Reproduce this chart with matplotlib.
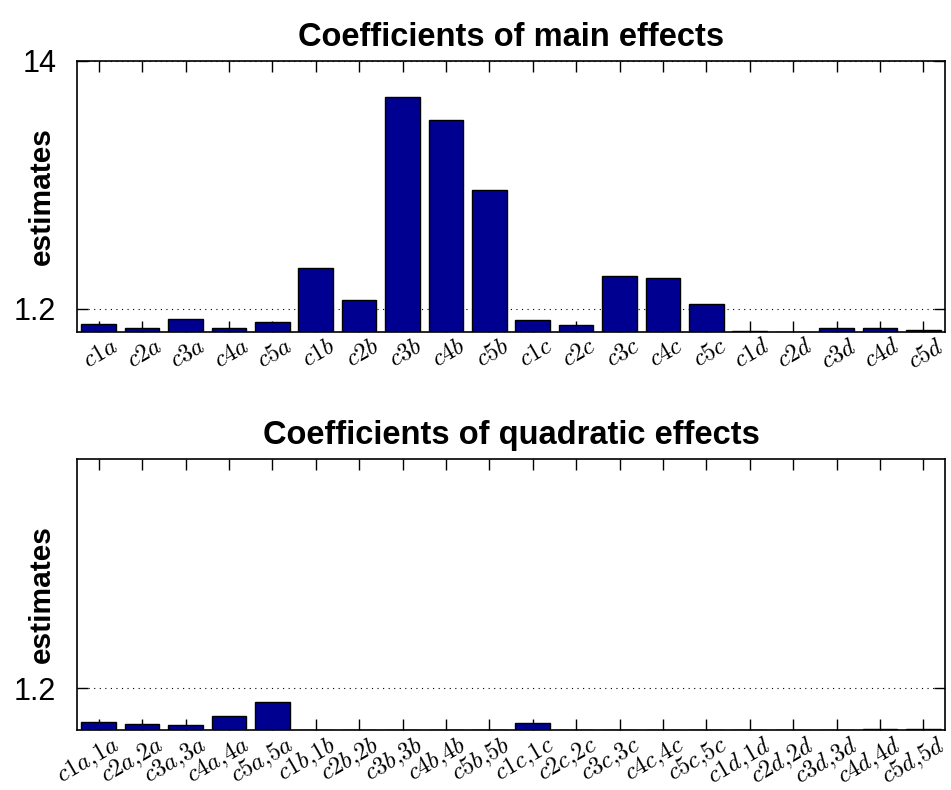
import matplotlib
matplotlib.use("Agg")
import matplotlib.pyplot as plt
import matplotlib.transforms as mtransforms
import numpy as np

plt.rcParams["font.family"] = ["Liberation Sans", "DejaVu Sans"]
plt.rcParams["mathtext.fontset"] = "cm"

# etiquetas de los efectos principales y cuadraticos
main_labels = ["c1a", "c2a", "c3a", "c4a", "c5a",
               "c1b", "c2b", "c3b", "c4b", "c5b",
               "c1c", "c2c", "c3c", "c4c", "c5c",
               "c1d", "c2d", "c3d", "c4d", "c5d"]
quad_labels = ["c1a,1a", "c2a,2a", "c3a,3a", "c4a,4a", "c5a,5a",
               "c1b,1b", "c2b,2b", "c3b,3b", "c4b,4b", "c5b,5b",
               "c1c,1c", "c2c,2c", "c3c,3c", "c4c,4c", "c5c,5c",
               "c1d,1d", "c2d,2d", "c3d,3d", "c4d,4d", "c5d,5d"]

# estimaciones
main_values = [0.40, 0.22, 0.66, 0.22, 0.52,
               3.31, 1.64, 12.12, 10.95, 7.33,
               0.60, 0.35, 2.89, 2.79, 1.43,
               0.07, 0.0, 0.19, 0.19, 0.08]
quad_values = [0.22, 0.17, 0.15, 0.40, 0.79,
               0.0, 0.0, 0.0, 0.0, 0.0,
               0.19, 0.0, 0.0, 0.0, 0.0,
               0.0, 0.0, 0.0, 0.02, 0.03]

y_ticks = [1.2, 14]
y_tick_labels = ["1.2", "14"]

fig = plt.figure(figsize=(9.51, 7.90), dpi=100)
ax1 = fig.add_axes([0.081, 0.5797, 0.9127, 0.3431])
ax2 = fig.add_axes([0.081, 0.0759, 0.9127, 0.3431])


def draw_panel(ax, labels, values, title, ymax):
    x = np.arange(1, len(values) + 1)
    ax.bar(x, values, width=0.8, color="#000090", edgecolor="black", linewidth=1.0, zorder=2)
    ax.set_xlim(0.5, len(values) + 0.5)
    ax.set_ylim(0, ymax)
    ticks = [(t, l) for t, l in zip(y_ticks, y_tick_labels) if t <= ymax]
    ax.set_yticks([t for t, _ in ticks])
    ax.set_yticklabels([l for _, l in ticks])
    ax.set_xticks(x)
    ax.set_xticklabels([])
    trans = mtransforms.blended_transform_factory(ax.transData, ax.transAxes)
    offset = mtransforms.ScaledTranslation(0.13, -0.03, fig.dpi_scale_trans)
    for xi, l in zip(x, labels):
        ax.text(xi, 0, "$" + l.replace(",", "{,}") + "$", transform=trans + offset,
                rotation=30, ha="right", va="top", rotation_mode="anchor",
                fontsize=17.5, clip_on=False)
    ax.tick_params(axis="both", direction="in", length=8, width=1.0,
                   top=True, right=True, labelsize=22, pad=15)
    ax.yaxis.grid(True, linestyle=(0, (1, 4)), color="black", linewidth=0.8)
    ax.set_axisbelow(True)
    for s in ax.spines.values():
        s.set_linewidth(1.2)
    ax.text(-35 / 868, 0.5, "estimates", transform=ax.transAxes, rotation=90,
            ha="center", va="center", fontsize=21.5, fontweight="bold")
    ax.set_title(title, fontsize=23.5, fontweight="bold", pad=11)


draw_panel(ax1, main_labels, main_values, "Coefficients of main effects", 14)
draw_panel(ax2, quad_labels, quad_values, "Coefficients of quadratic effects", 7.75)

fig.savefig("out.png", dpi=100)
